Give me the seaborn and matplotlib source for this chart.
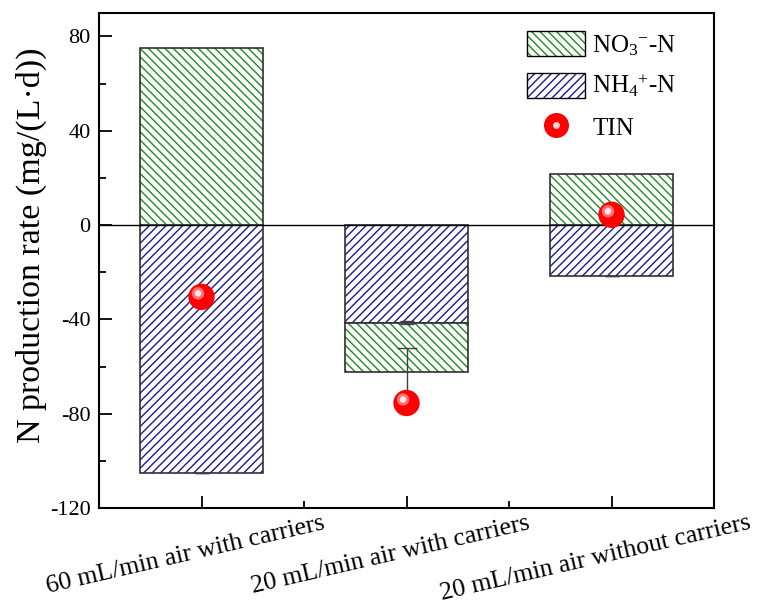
import numpy as np
import pandas as pd
import seaborn as sns
import matplotlib
matplotlib.use('Agg')
import matplotlib.pyplot as plt
import matplotlib.colors as mcolors
import matplotlib.transforms as mtransforms
from matplotlib.patches import Patch
from matplotlib.lines import Line2D

# data
groups = ['60 mL/min air with carriers',
          '20 mL/min air with carriers',
          '20 mL/min air without carriers']
nh4 = [-105.1, -41.4, -21.5]
nh4_err = [0.0, 0.6, 0.0]
no3 = [74.9, -20.8, 21.8]
no3_bottom = [0.0, -41.4, 0.0]
tin = [-30.4, -75.4, 4.4]
tin_err_up = [0.0, 23.4, 0.0]

sns.set_theme(style='ticks')
plt.rcParams['font.family'] = ['Liberation Serif', 'DejaVu Serif']
plt.rcParams['mathtext.fontset'] = 'custom'
plt.rcParams['mathtext.rm'] = 'Liberation Serif'
plt.rcParams['mathtext.it'] = 'Liberation Serif:italic'
plt.rcParams['hatch.linewidth'] = 1.0
plt.rcParams['axes.unicode_minus'] = False
for k in ['text.color', 'axes.labelcolor', 'xtick.color', 'ytick.color']:
    plt.rcParams[k] = 'black'

fig, ax = plt.subplots(figsize=(7.58, 6.13), dpi=100)
fig.subplots_adjust(left=0.1306, right=0.942, top=0.979, bottom=0.171)

df = pd.DataFrame({'group': groups, 'nh4': nh4, 'no3': no3})

def hatch_bars(start, color, hatch):
    for p in ax.patches[start:]:
        p.set_facecolor('white')
        p.set_edgecolor('#303030')
        p.set_linewidth(1.2)
        p.set_hatch(hatch)
        p._hatch_color = mcolors.to_rgba(color)

# NH4 bars (from zero)
sns.barplot(data=df, x='group', y='nh4', color='white', width=0.6, ax=ax)
hatch_bars(0, '#1a1a8c', '////')
n = len(ax.patches)
# NO3 bars (stacked where needed)
sns.barplot(data=df, x='group', y='no3', color='white', width=0.6,
            bottom=no3_bottom, ax=ax)
hatch_bars(n, '#1f8a1f', '\\\\\\\\')

ax.axhline(0, color='black', lw=1.0, zorder=3)

# error bars
xpos = np.arange(len(groups))
ax.errorbar(xpos, nh4, yerr=nh4_err, fmt='none', ecolor='#404040',
            elinewidth=1, capsize=5, capthick=1, zorder=4)
ax.errorbar(xpos, tin, yerr=[np.zeros(3), tin_err_up], fmt='none',
            ecolor='#404040', elinewidth=1, capsize=7, capthick=1, zorder=4)

# TIN spheres
sns.scatterplot(x=xpos, y=tin, s=360, color='#ff0000', edgecolor='none',
                ax=ax, zorder=5, legend=False)
off = mtransforms.ScaledTranslation(-3.5/100, 3.5/100, fig.dpi_scale_trans)
h1 = ax.scatter(xpos, tin, s=80, color='#ff7070', edgecolor='none', zorder=6)
h1.set_offset_transform(ax.transData + off)
h2 = ax.scatter(xpos, tin, s=22, color='white', edgecolor='none', zorder=7,
                alpha=0.85)
h2.set_offset_transform(ax.transData + off)

ax.set_xlim(-0.5, 2.5)
ax.set_ylim(-120, 90)
ax.set_yticks([-120, -80, -40, 0, 40, 80])
ax.set_yticks(np.arange(-100, 90, 40), minor=True)
ax.set_xticks(xpos)
ax.set_xticks([0.5, 1.5], minor=True)
ax.set_xlabel('')
ax.set_ylabel('N production rate (mg/(L·d))', fontsize=24.5)
ax.yaxis.set_label_coords(-0.085, 0.53)
ax.set_xticklabels(groups, rotation=13, ha='center', fontsize=18.5)
ax.tick_params(axis='y', labelsize=16)
ax.tick_params(which='major', direction='in', length=9, width=1.3, pad=6)
ax.tick_params(axis='x', which='major', pad=3)
ax.tick_params(which='minor', direction='in', length=5, width=1.3)
# nudge the slanted category labels a bit to the left (as in the original)
shift = mtransforms.ScaledTranslation(-16/100, 0, fig.dpi_scale_trans)
for lab in ax.get_xticklabels():
    lab.set_transform(lab.get_transform() + shift)
for s in ax.spines.values():
    s.set_visible(True)
    s.set_linewidth(1.5)
    s.set_color('black')

# legend
hd_no3 = Patch(facecolor='white', edgecolor='black', hatch='\\\\\\\\')
hd_no3._hatch_color = mcolors.to_rgba('#1f8a1f')
hd_nh4 = Patch(facecolor='white', edgecolor='black', hatch='////')
hd_nh4._hatch_color = mcolors.to_rgba('#1a1a8c')
hd_tin = (Line2D([], [], ls='none', marker='o', markersize=18,
                 markerfacecolor='red', markeredgecolor='none'),
          Line2D([], [], ls='none', marker='o', markersize=5,
                 markerfacecolor='#ffd0d0', markeredgecolor='none'))
ax.legend([hd_no3, hd_nh4, hd_tin],
          ['NO$_3$$^{-}$-N', 'NH$_4$$^{+}$-N', 'TIN'],
          loc='upper right', bbox_to_anchor=(0.975, 1.008), frameon=False,
          fontsize=18, handlelength=2.3, handleheight=1.15, labelspacing=0.6,
          handletextpad=0.3)

plt.savefig('out.png', dpi=100)
